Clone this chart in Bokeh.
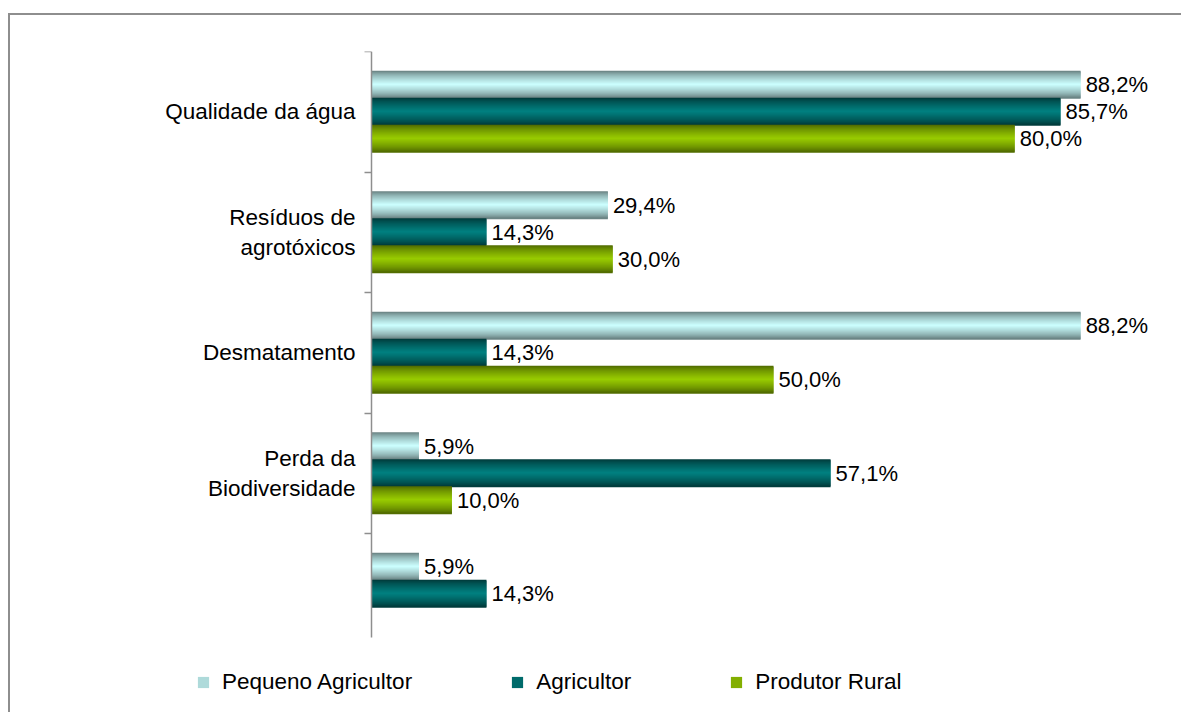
from bokeh.plotting import figure
from bokeh.models import Range1d, FixedTicker, Legend, LegendItem, ColumnDataSource
from bokeh.core.properties import value
from bokeh.embed import file_html
from bokeh.resources import INLINE

categories = ["Qualidade da água", "Resíduos de\nagrotóxicos", "Desmatamento",
              "Perda da\nBiodiversidade", ""]
series_names = ["Pequeno Agricultor", "Agricultor", "Produtor Rural"]
pequeno = [88.2, 29.4, 88.2, 5.9, 5.9]
agricultor = [85.7, 14.3, 14.3, 57.1, 14.3]
produtor = [80.0, 30.0, 50.0, 10.0, None]

center_colors = [(204, 255, 255), (0, 128, 128), (153, 204, 0)]
edge_colors = [(96, 120, 120), (0, 52, 52), (74, 98, 0)]

FONT = "Liberation Sans"
W, H = 1173, 699
TOP = 36            # frame top (canvas px)
AX_X = 361          # axis position (canvas px)
PLOT_R = 1165       # x=100 position (canvas px)
BAND = 120.5        # px per category
AX_LEN = 586        # axis length px
BAR_H = 27 / BAND
N_STRIP = 27

px = 100 / (PLOT_R - AX_X)
x0 = -AX_X * px
y_bottom = -0.5 + (H - TOP) / BAND

p = figure(width=W, height=H, output_backend="svg", toolbar_location=None,
           x_range=Range1d(x0, 100), y_range=Range1d(y_bottom, -0.5))
p.min_border = 0
p.min_border_top = TOP
p.min_border_right = W - PLOT_R
p.outline_line_color = None
p.xgrid.visible = False
p.ygrid.visible = False
p.xaxis.visible = False
p.background_fill_color = "white"
p.border_fill_color = "white"
p.styles = {"margin-top": "13px", "margin-left": "8px",
            "border-top": "2px solid #8e8e8e", "border-left": "2px solid #8e8e8e"}

yax = p.yaxis[0]
yax.fixed_location = 0
yax.bounds = (-0.5, -0.5 + AX_LEN / BAND)
yax.ticker = FixedTicker(ticks=list(range(len(categories))),
                         minor_ticks=[i - 0.5 for i in range(len(categories))])
yax.major_label_overrides = {i: c for i, c in enumerate(categories)}
yax.major_tick_out = 0
yax.major_tick_in = 0
yax.minor_tick_out = 7
yax.minor_tick_in = 0
yax.minor_tick_line_color = "#8e8e8e"
yax.minor_tick_line_width = 1.5
yax.axis_line_color = "#8e8e8e"
yax.axis_line_width = 1.5
yax.major_label_standoff = 9
yax.major_label_text_font = FONT
yax.major_label_text_font_size = "22.5px"
yax.major_label_text_color = "black"
yax.major_label_text_align = "right"


def mix(c1, c2, f):
    return "#%02x%02x%02x" % tuple(int(round(a + (b - a) * f)) for a, b in zip(c1, c2))


legend_items = []
all_series = [pequeno, agricultor, produtor]
for s, vals in enumerate(all_series):
    offset = (s - 1) * BAR_H
    ys, rights, cols = [], [], []
    for i, v in enumerate(vals):
        if v is None:
            continue
        base = i + offset
        for k in range(N_STRIP):
            t = 1 - abs(2 * (k + 0.5) / N_STRIP - 1)
            ys.append(base - BAR_H / 2 + (k + 0.5) * BAR_H / N_STRIP)
            rights.append(v)
            cols.append(mix(edge_colors[s], center_colors[s], t ** 0.7))
    src = ColumnDataSource(dict(y=ys, right=rights, color=cols))
    r = p.hbar(y="y", right="right", left=0, height=BAR_H / N_STRIP * 1.8,
               fill_color="color", line_color=None, source=src)
    legend_items.append(LegendItem(label=series_names[s], renderers=[r], index=N_STRIP // 2 - 5))

    lx, ly, lt = [], [], []
    for i, v in enumerate(vals):
        if v is None:
            continue
        lx.append(v)
        ly.append(i + offset)
        lt.append(("%.1f" % v).replace(".", ",") + "%")
    p.text(x=lx, y=ly, text=lt, x_offset=5, text_baseline="middle", text_align="left",
           text_font=value(FONT), text_font_size="22px", text_color="black")

legend = Legend(items=legend_items, orientation="horizontal", location=(186, H - 680))
legend.padding = 0
legend.margin = 0
legend.spacing = 98
legend.glyph_width = 14
legend.glyph_height = 14
legend.label_standoff = 12
legend.label_text_font = FONT
legend.label_text_font_size = "22.5px"
legend.label_text_color = "black"
legend.border_line_alpha = 0
legend.background_fill_alpha = 0
p.add_layout(legend, "center")

open("out.html", "w").write(file_html(p, INLINE))
